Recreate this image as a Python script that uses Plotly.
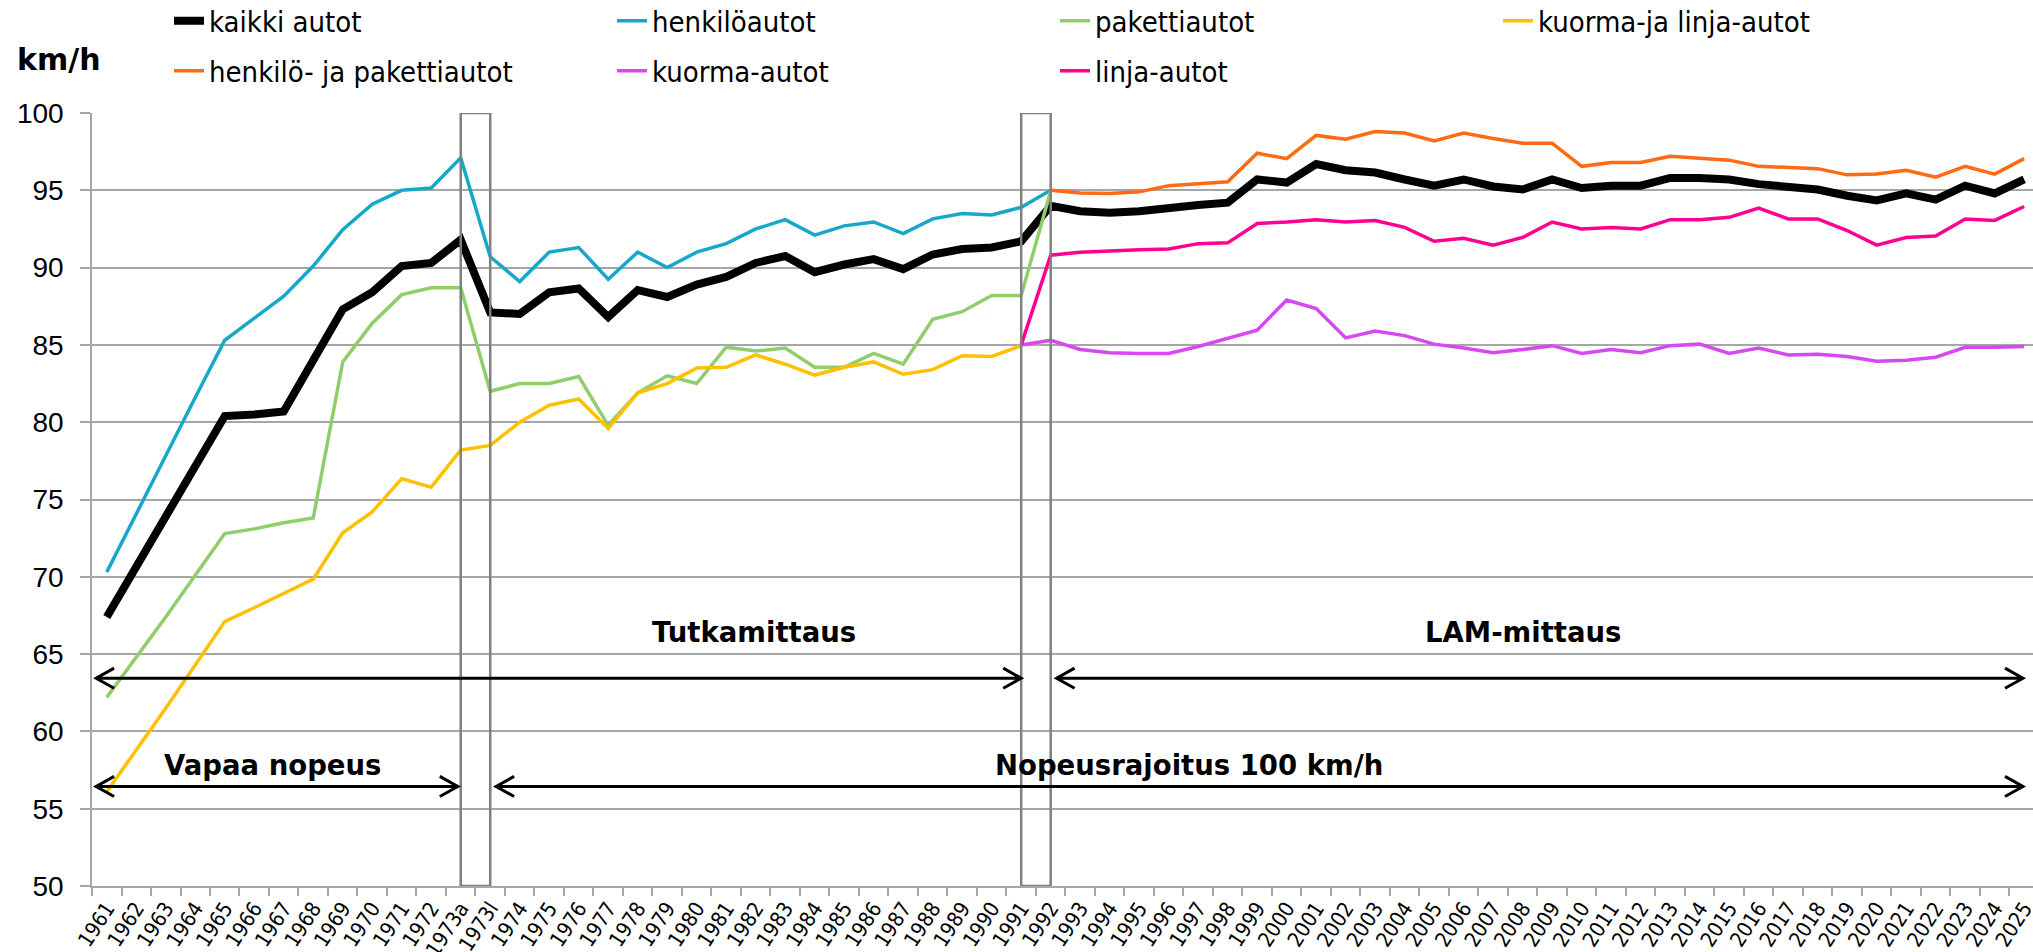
import plotly.graph_objects as go

# categories (x axis)
years = [str(y) for y in range(1961, 1973)] + ["1973a", "1973l"] + [str(y) for y in range(1974, 2026)]

# average speeds, km/h (None = no measurement)
kaikki_autot = [67.4, 70.6, 73.9, 77.0, 80.4, 80.5, 80.7, 84.0, 87.3, 88.4, 90.1, 90.3, 91.8, 87.1,
                87.0, 88.4, 88.65, 86.8, 88.55, 88.1, 88.9, 89.4, 90.3, 90.75, 89.7, 90.2, 90.55, 89.9,
                90.85, 91.2, 91.3, 91.7, 94.0, 93.65, 93.55, 93.65, 93.9, 94.05, 94.2, 95.7, 95.5, 96.7,
                96.3, 96.15, 95.7, 95.3, 95.7, 95.25, 95.05, 95.7, 95.15, 95.3, 95.3, 95.8, 95.8, 95.7,
                95.4, 95.25, 95.05, 94.65, 94.35, 94.8, 94.4, 95.3, 94.8, 95.7]
henkiloautot = [70.3, 74.1, 77.8, 81.6, 85.3, 86.7, 88.15, 90.1, 92.45, 94.1, 95.0, 95.15, 97.1, 90.7,
                89.1, 91.0, 91.3, 89.25, 91.0, 90.0, 91.0, 91.55, 92.5, 93.1, 92.1, 92.7, 92.95, 92.2,
                93.15, 93.5, 93.4, 93.9, 95.0] + [None] * 33
pakettiautot = [62.2, 64.8, 67.4, 70.1, 72.8, 73.1, 73.5, 73.8, 83.9, 86.4, 88.25, 88.7, 88.7, 82.0,
                82.5, 82.5, 82.95, 79.8, 81.9, 83.0, 82.5, 84.85, 84.6, 84.8, 83.55, 83.55, 84.45, 83.75,
                86.65, 87.15, 88.2, 88.2, 94.95] + [None] * 33
kuorma_ja_linja = [56.1, 58.8, 61.5, 64.3, 67.1, 68.0, 68.9, 69.85, 72.85, 74.2, 76.35, 75.8, 78.2, 78.5,
                   80.0, 81.1, 81.5, 79.6, 81.9, 82.5, 83.5, 83.55, 84.35, 83.75, 83.05, 83.55, 83.9, 83.1,
                   83.4, 84.3, 84.25, 84.95] + [None] * 34
henkilo_ja_paketti = [None] * 32 + [95.0, 94.83, 94.8, 94.9, 95.3, 95.4, 95.55, 97.4, 97.05, 98.55, 98.3,
                                    98.8, 98.7, 98.2, 98.7, 98.35, 98.05, 98.05, 96.55, 96.8, 96.8, 97.2,
                                    97.05, 96.95, 96.55, 96.45, 96.4, 96.0, 96.05, 96.3, 95.85, 96.55,
                                    96.05, 97.05]
kuorma_autot = [None] * 31 + [85.0, 85.3, 84.7, 84.5, 84.45, 84.45, 84.9, 85.45, 85.95, 87.9, 87.35, 85.45,
                              85.9, 85.6, 85.05, 84.8, 84.5, 84.7, 84.95, 84.45, 84.7, 84.5, 84.95, 85.05,
                              84.45, 84.8, 84.35, 84.4, 84.25, 83.95, 84.0, 84.2, 84.85, 84.85, 84.9]
linja_autot = [None] * 31 + [85.0, 90.8, 91.0, 91.1, 91.15, 91.2, 91.55, 91.6, 92.85, 92.95, 93.1, 92.95,
                             93.05, 92.6, 91.7, 91.9, 91.45, 91.95, 92.95, 92.5, 92.6, 92.5, 93.1, 93.1,
                             93.25, 93.85, 93.15, 93.15, 92.4, 91.45, 91.95, 92.05, 93.15, 93.05, 93.95]

series = [
    ("kaikki autot", kaikki_autot, "#000000", 8, "legend"),
    ("henkilöautot", henkiloautot, "#17A8C9", 3.5, "legend"),
    ("pakettiautot", pakettiautot, "#8FCE6B", 3.5, "legend"),
    ("kuorma-ja linja-autot", kuorma_ja_linja, "#FFC000", 3.5, "legend"),
    ("henkilö- ja pakettiautot", henkilo_ja_paketti, "#FF6A13", 3.5, "legend2"),
    ("kuorma-autot", kuorma_autot, "#D648F2", 3.5, "legend2"),
    ("linja-autot", linja_autot, "#FF0090", 3.5, "legend2"),
]

GRID = "#A6A6A6"
COND = "DejaVu Sans Condensed, DejaVu Sans, sans-serif"
WIDE = "DejaVu Sans, sans-serif"
W, H = 2033, 952
ML, MT, MB = 92, 113, 66

fig = go.Figure()
for name, vals, col, w, leg in series:
    fig.add_trace(go.Scatter(x=years, y=vals, name=name, mode="lines",
                             line=dict(color=col, width=w), legend=leg))

idx = {c: i for i, c in enumerate(years)}

# gray frames around the method-change years
for a, b in [("1973a", "1973l"), ("1991", "1992")]:
    fig.add_shape(type="rect", xref="x", yref="y", x0=idx[a], x1=idx[b], y0=50, y1=100,
                  line=dict(color="#808080", width=2.5), fillcolor="rgba(0,0,0,0)")

# double-headed period arrows
def arrow(x0, x1, y):
    dx, dy = 0.61, 0.65
    p = (f"M{x0},{y} L{x1},{y} "
         f"M{x0 + dx},{y + dy} L{x0},{y} L{x0 + dx},{y - dy} "
         f"M{x1 - dx},{y + dy} L{x1},{y} L{x1 - dx},{y - dy}")
    fig.add_shape(type="path", xref="x", yref="y", path=p, line=dict(color="black", width=3))

arrow(-0.36, idx["1991"], 63.44)
arrow(idx["1992"] + 0.2, idx["2025"] - 0.04, 63.44)
arrow(-0.36, idx["1973a"] - 0.1, 56.44)
arrow(idx["1973l"] + 0.2, idx["2025"] - 0.04, 56.44)

labels = [("Tutkamittaus", 21.95, 66.4), ("LAM-mittaus", 48.0, 66.4),
          ("Vapaa nopeus", 5.62, 57.85), ("Nopeusrajoitus 100 km/h", 36.7, 57.85)]
for t, x, y in labels:
    fig.add_annotation(x=x, y=y, xref="x", yref="y", text=f"<b>{t}</b>", showarrow=False,
                       font=dict(family=WIDE, size=27.5, color="black"))

# unit label above the y axis
plot_w, plot_h = W - ML, H - MT - MB
fig.add_annotation(x=(15 - ML) / plot_w, y=1 + (MT - 60) / plot_h, xref="paper", yref="paper",
                   text="<b>km/h</b>", showarrow=False, xanchor="left", yanchor="middle",
                   font=dict(family=WIDE, size=30, color="black"))

fig.update_layout(
    width=W, height=H,
    margin=dict(l=ML, r=0, t=MT, b=MB, autoexpand=False),
    plot_bgcolor="white", paper_bgcolor="white",
    legend=dict(orientation="h", xref="container", yref="container", x=169 / W, y=1 - 21 / H,
                xanchor="left", yanchor="middle", entrywidth=398, entrywidthmode="pixels",
                font=dict(family=COND, size=29, color="black"), bgcolor="rgba(0,0,0,0)"),
    legend2=dict(orientation="h", xref="container", yref="container", x=169 / W, y=1 - 71 / H,
                 xanchor="left", yanchor="middle", entrywidth=398, entrywidthmode="pixels",
                 font=dict(family=COND, size=29, color="black"), bgcolor="rgba(0,0,0,0)"),
    xaxis=dict(type="category", categoryorder="array", categoryarray=years, range=[-0.5, 65.3],
               showgrid=False, showline=True, linecolor=GRID, linewidth=1.5,
               ticks="outside", ticklen=8, tickcolor=GRID, tickwidth=1.5, tickson="boundaries",
               tickangle=-57, tickfont=dict(family=COND, size=21, color="black")),
    yaxis=dict(range=[50, 100], dtick=5, showgrid=True, gridcolor=GRID, gridwidth=1.5,
               showline=True, linecolor=GRID, linewidth=1.5, zeroline=False,
               ticks="outside", ticklen=10, tickcolor=GRID, tickwidth=1.5, ticklabelstandoff=11,
               tickfont=dict(family="Liberation Sans, Arial, sans-serif", size=28, color="black")),
)

# the page's default body margin would shift the figure; remove it
fig.write_html("out.html", config={"displayModeBar": False},
               post_script="document.body.style.margin='0px';")
